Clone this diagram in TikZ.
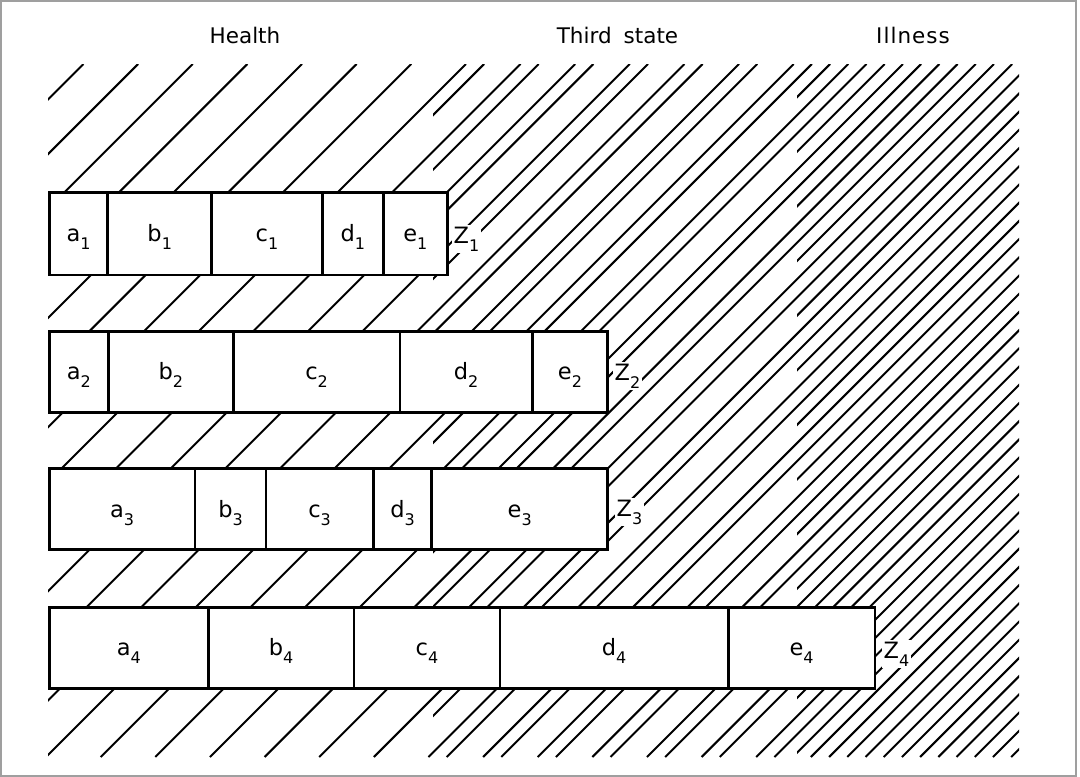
\documentclass[tikz,border=0pt]{standalone}
\usepackage{fontspec}
\setmainfont{DejaVu Sans}
\newcommand\lsub[1]{\raisebox{-8pt}{\fontsize{16}{16}\selectfont #1}}
\begin{document}
\begin{tikzpicture}[x=1pt,y=-1pt,
  hatch/.style={line width=2pt},
  cellbox/.style={draw=black, fill=white, line width=2.8pt, rectangle,
    inner sep=0pt, outer sep=0pt, text height=16pt, text depth=0pt,
    font=\fontsize{22.5}{22.5}\selectfont},
  zlab/.style={fill=white, inner sep=1.5pt, anchor=base west,
    font=\fontsize{22.5}{22.5}\selectfont},
  head/.style={anchor=base, inner sep=0pt, font=\fontsize{21.5}{21.5}\selectfont}]
\useasboundingbox (0,0) rectangle (1080,777);
\draw[gray!75, line width=1.5pt] (1,1) rectangle (1076,776);
% hatching: base lines everywhere
\begin{scope}
  \clip (48,64) rectangle (1019,757);
  \foreach \k in {0,...,30} {
    \pgfmathsetmacro\cc{147.5+54.63*\k}
    \draw[hatch] (\cc-64,64) -- (\cc-757,757);
  }
\end{scope}
% second line per period: third state and illness
\begin{scope}
  \clip (433,64) rectangle (1019,757);
  \foreach \k in {0,...,30} {
    \pgfmathsetmacro\cc{147.5+18.2+54.63*\k}
    \draw[hatch] (\cc-64,64) -- (\cc-757,757);
  }
\end{scope}
% third line per period: illness
\begin{scope}
  \clip (797,64) rectangle (1019,757);
  \foreach \k in {0,...,30} {
    \pgfmathsetmacro\cc{147.5+36.4+54.63*\k}
    \draw[hatch] (\cc-64,64) -- (\cc-757,757);
  }
\end{scope}
% cells
\foreach \n/\xa/\xb/\ya/\yb/\t in {
  a1/49.3/107.7/192.3/275/{a\lsub{1}},
  b1/107.7/211.7/192.3/275/{b\lsub{1}},
  c1/211.7/322.3/192.3/275/{c\lsub{1}},
  d1/322.3/383.3/192.3/275/{d\lsub{1}},
  e1/383.3/447.3/192.3/275/{e\lsub{1}},
  a2/49.3/108.3/331.2/412.2/{a\lsub{2}},
  b2/108.3/233.3/331.2/412.2/{b\lsub{2}},
  c2/233.3/400/331.2/412.2/{c\lsub{2}},
  d2/400/532.3/331.2/412.2/{d\lsub{2}},
  e2/532.3/607.7/331.2/412.2/{e\lsub{2}},
  a3/49.3/195/468.8/549.7/{a\lsub{3}},
  b3/195/266/468.8/549.7/{b\lsub{3}},
  c3/266/373.3/468.8/549.7/{c\lsub{3}},
  d3/373.3/431.7/468.8/549.7/{d\lsub{3}},
  e3/431.7/607.7/468.8/549.7/{e\lsub{3}},
  a4/49.3/208.3/607.3/688.3/{a\lsub{4}},
  b4/208.3/354/607.3/688.3/{b\lsub{4}},
  c4/354/500/607.3/688.3/{c\lsub{4}},
  d4/500/728.3/607.3/688.3/{d\lsub{4}},
  e4/728.3/875/607.3/688.3/{e\lsub{4}}} {
  \node[cellbox, minimum width={(\xb-\xa)*1pt}, minimum height={(\yb-\ya)*1pt}]
    (\n) at ({(\xa+\xb)/2},{(\ya+\yb)/2}) {\t};
}
% Z labels
\node[zlab] (z1) at (452,243) {Z\lsub{1}};
\node[zlab] (z2) at (613,380) {Z\lsub{2}};
\node[zlab] (z3) at (615,516) {Z\lsub{3}};
\node[zlab] (z4) at (882,658) {Z\lsub{4}};
% headings
\node[head] (health) at (245,43) {Health};
\node[head] (third) at (617.5,43) {Third\hspace{12pt}state};
\node[head] (illness) at (913,43) {I\kern1pt l\kern1pt l\kern1pt n\kern1pt e\kern1pt s\kern1pt s};
\end{tikzpicture}
\end{document}
